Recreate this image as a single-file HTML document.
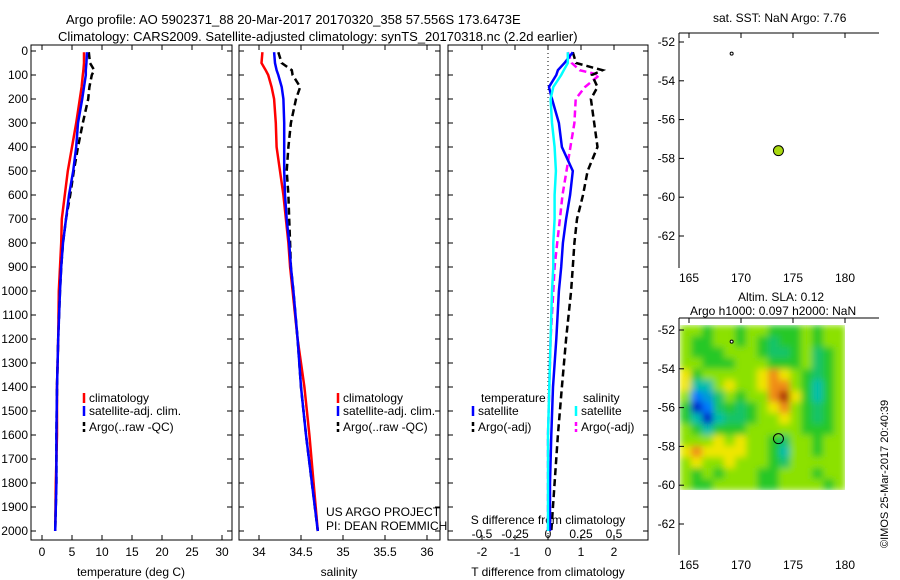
<!DOCTYPE html>
<html><head><meta charset="utf-8"><style>
body{margin:0;background:#fff}
svg{display:block;font-family:"Liberation Sans",sans-serif;font-size:12px}
</style></head><body>
<svg id="s" width="900" height="580">
<defs><filter id="bl" x="0" y="0" width="1" height="1"><feGaussianBlur stdDeviation="3.5" edgeMode="duplicate"/></filter>
<clipPath id="hc"><rect x="680" y="325" width="165" height="165"/></clipPath></defs>
<text x="66" y="24" font-size="13">Argo profile: AO 5902371_88 20-Mar-2017 20170320_358 57.556S 173.6473E</text>
<text x="58" y="41" font-size="13">Climatology: CARS2009. Satellite-adjusted climatology: synTS_20170318.nc (2.2d earlier)</text>
<text x="713" y="22">sat. SST: NaN Argo: 7.76</text>
<text x="738" y="301">Altim. SLA: 0.12</text>
<text x="690" y="315">Argo h1000: 0.097 h2000: NaN</text>
<text transform="translate(888,548) rotate(-90)" font-size="11">©IMOS 25-Mar-2017 20:40:39</text>
<g id="heat" clip-path="url(#hc)"><g id="heatin" filter="url(#bl)"></g></g>
</svg>
<script>
const depths=[5,50,80,100,150,200,300,400,500,600,700,800,900,1000,1200,1400,1600,1800,2000];
const tClim=[7.0,7.0,6.9,6.8,6.6,6.3,5.7,5.0,4.3,3.8,3.3,3.2,3.0,2.8,2.7,2.5,2.5,2.3,2.2];
const tSat=[7.5,7.4,7.3,7.3,7.0,6.7,6.0,5.7,5.2,4.5,4.0,3.5,3.2,3.0,2.7,2.5,2.4,2.4,2.2];
const tArgo=[7.8,8.0,8.7,8.3,7.9,7.7,6.8,6.0,5.3,4.7,4.0,3.5,3.2,3.0,2.7,2.5,2.4,2.4,2.2];
const sClim=[34.04,34.03,34.08,34.11,34.15,34.18,34.2,34.21,34.25,34.29,34.32,34.35,34.37,34.4,34.46,34.54,34.6,34.65,34.7];
const sSat=[34.18,34.19,34.21,34.23,34.27,34.29,34.3,34.3,34.3,34.31,34.33,34.36,34.38,34.41,34.46,34.5,34.56,34.63,34.7];
const sArgo=[34.23,34.27,34.39,34.4,34.49,34.44,34.38,34.35,34.33,34.35,34.36,34.37,34.38,34.41,34.46,34.5,34.56,34.63,34.7];
const dTSat=[0.75,0.5,0.3,0.25,0.03,0.12,0.33,0.42,0.75,0.67,0.55,0.45,0.4,0.33,0.25,0.15,0.1,0.06,0.06];
const dTArgo=[0.75,0.85,1.65,1.33,1.5,1.3,1.4,1.5,1.2,1.06,0.88,0.8,0.75,0.7,0.55,0.42,0.3,0.2,0.1];
const dSSat=[0.15,0.15,0.12,0.1,0.04,0.02,0.03,0.05,0.06,0.05,0.05,0.04,0.04,0.03,0.02,0.01,0.0,0.0,0.0];
const dSArgo=[0.15,0.18,0.24,0.39,0.28,0.21,0.2,0.17,0.14,0.11,0.09,0.07,0.05,0.04,0.02,0.01,0.0,0.0,0.0];
const yTicks=[0,100,200,300,400,500,600,700,800,900,1000,1100,1200,1300,1400,1500,1600,1700,1800,1900,2000];
const tTicks=[0,5,10,15,20,25,30];
const sTicks=[34,34.5,35,35.5,36];
const dTTicks=[-2,-1,0,1,2];
const dSTicks=[-0.5,-0.25,0,0.25,0.5];
const sla=[
[1,1,0,1,1,0,1,1,0,0,0,1,0,1,1],
[1,0,0,1,1,0,1,0,-0.5,0,0,1,0,1,1],
[1,0,0,0,1,1,1,0,-0.5,-0.5,0,1,-0.5,0,1],
[1,1,0,0,0,1,1,1,0,0,0,1,-0.5,0,1],
[2,0,1,1,1,1,1,2,3,2,1,0,-0.5,0,1],
[2,-1,-1,1,2,1,1,2,3,3,1,0,-1,0,1],
[1,-2,-1.5,-0.5,1,0,1,1,3,4,2,0,-1,0,1],
[0,-3,-2,-0.5,0,-0.5,0,1,2,3,1,0,-0.5,0,1],
[0,-1,-3,-1,-0.5,-0.5,0,1,1,2,1,0,-0.5,0,1],
[1,0,-1,0,0,0,1,1,1,1,1,0,0,0,1],
[1,1,1,2,1,2,1,1,0,-0.5,1,1,0,1,1],
[2,3,2,2,2,2,1,1,0,-1,1,1,0,1,1],
[1,2,1,1,2,1,1,1,0,-0.5,1,1,1,1,1],
[1,0,1,0,1,1,1,0,0,1,1,1,0,1,1],
[1,0,0,1,1,1,1,0,0,1,1,1,1,0,1]];
const latTicks=[-52,-54,-56,-58,-60,-62];
const lonTicks=[165,170,175,180];
const argoPos=[173.6,-57.6];
const smallPos=[169.1,-52.6];

const NS="http://www.w3.org/2000/svg",S=document.getElementById('s');
function mk(t,a,p){const e=document.createElementNS(NS,t);for(const k in a)e.setAttribute(k,a[k]);(p||S).appendChild(e);return e;}
const Y=d=>51+d*0.24;
function box(x0,x1,name){const r=mk('rect',{x:x0,y:45,width:x1-x0,height:495,fill:'none',stroke:'#000'});

}
function xt(ticks,f,y,name){ticks.forEach(v=>{const x=f(v);mk('line',{x1:x,x2:x,y1:540,y2:535,stroke:'#000'});mk('line',{x1:x,x2:x,y1:45,y2:50,stroke:'#000'});
const t=mk('text',{x:x,y:y,'text-anchor':'middle'});t.textContent=v;

});}
function yt(x0,x1,lbl){yTicks.forEach(d=>{mk('line',{x1:x0,x2:x0+5,y1:Y(d),y2:Y(d),stroke:'#000'});mk('line',{x1:x1,x2:x1-5,y1:Y(d),y2:Y(d),stroke:'#000'});
if(lbl){const t=mk('text',{x:28,y:Y(d)+4,'text-anchor':'end'});t.textContent=d;

}});}
function line(vals,f,col,dash,name){const pts=vals.map((v,i)=>f(v).toFixed(1)+','+Y(depths[i]).toFixed(1)).join(' ');
const p=mk('polyline',{points:pts,fill:'none',stroke:col,'stroke-width':2.5,'stroke-dasharray':dash||'none'});

}
function lab(x,y,s,name,anchor){const t=mk('text',{x:x,y:y,'text-anchor':anchor||'start'});t.textContent=s;

}
function leg(x,y,col,dash,s,name){mk('line',{x1:x,x2:x,y1:y-9,y2:y+1,stroke:col,'stroke-width':2.5,'stroke-dasharray':dash||'none'});lab(x+5,y,s,name);}
// panel 1
const fT=v=>42+v*6;
box(31,232,'temperature-axes');yt(31,232,true);xt(tTicks,fT,556,'temperature-tick');
line(tClim,fT,'#f00',null,'temp-climatology-line');line(tArgo,fT,'#000','7,4','temp-argo-line');line(tSat,fT,'#00f',null,'temp-satellite-line');
lab(131,576,'temperature (deg C)','temperature-axis-title','middle');
leg(84,402,'#f00',null,'climatology','legend-climatology');leg(84,415,'#00f',null,'satellite-adj. clim.','legend-satellite');leg(84,431,'#000','4,3','Argo(..raw -QC)','legend-argo');
// panel 2
const fS=v=>259+(v-34)*84;
box(239,440,'salinity-axes');yt(239,440,false);xt(sTicks,fS,556,'salinity-tick');
line(sClim,fS,'#f00',null,'sal-climatology-line');line(sArgo,fS,'#000','7,4','sal-argo-line');line(sSat,fS,'#00f',null,'sal-satellite-line');
lab(339,576,'salinity','salinity-axis-title','middle');
leg(338,402,'#f00',null,'climatology','legend-climatology-2');leg(338,415,'#00f',null,'satellite-adj. clim.','legend-satellite-2');leg(338,431,'#000','4,3','Argo(..raw -QC)','legend-argo-2');
lab(326,516,'US ARGO PROJECT','project-label');lab(326,530,'PI: DEAN ROEMMICH','pi-label');
// panel 3
const fD=v=>548+v*33, fDS=v=>548+v*132;
box(448,648,'difference-axes');yt(448,648,false);xt(dTTicks,fD,556,'tdiff-tick');
dSTicks.forEach(v=>{const t=mk('text',{x:fDS(v),y:538,'text-anchor':'middle'});t.textContent=v;

});
lab(548,524,'S difference from climatology','sdiff-axis-title','middle');
mk('line',{x1:548,x2:548,y1:45,y2:540,stroke:'#000','stroke-dasharray':'1,3'});
line(dSArgo,fDS,'#f0f','7,4','sdiff-argo-line');line(dTArgo,fD,'#000','7,4','tdiff-argo-line');line(dTSat,fD,'#00f',null,'tdiff-satellite-line');line(dSSat,fDS,'#0ff',null,'sdiff-satellite-line');
lab(548,576,'T difference from climatology','tdiff-axis-title','middle');
lab(481,402,'temperature','legend-temperature-head');lab(583,402,'salinity','legend-salinity-head');
leg(473,415,'#00f',null,'satellite','legend-t-satellite');leg(473,431,'#000','4,3','Argo(-adj)','legend-t-argo');
leg(576,415,'#0ff',null,'satellite','legend-s-satellite');leg(576,431,'#f0f','4,3','Argo(-adj)','legend-s-argo');
// maps
const fLon=v=>689+(v-165)*10.4;
const HG=document.getElementById('heatin');
function map(top,bot,lat0y,name,heat){
 const fLat=v=>lat0y+(-52-v)*19.4;
 if(heat){const cw=11,ch=11;sla.forEach((row,r)=>row.forEach((v,c)=>{const cell=mk('rect',{x:680+c*cw,y:325+r*ch,width:cw+0.5,height:ch+0.5,fill:cmap(v)},HG);
 
 }));}
 mk('line',{x1:679,x2:679,y1:top,y2:bot,stroke:'#000'});mk('line',{x1:679,x2:879,y1:top,y2:top,stroke:'#000'});
 const r=mk('rect',{x:679,y:top,width:200,height:bot-top,fill:'none',stroke:'none'});
 
 
 latTicks.forEach(v=>{const y=fLat(v);mk('line',{x1:679,x2:684,y1:y,y2:y,stroke:'#000'});const t=mk('text',{x:675,y:y+4,'text-anchor':'end'});t.textContent=v;
 
 });
 lonTicks.forEach(v=>{const x=fLon(v);mk('line',{x1:x,x2:x,y1:top,y2:top+5,stroke:'#000'});const t=mk('text',{x:x,y:bot+14,'text-anchor':'middle'});t.textContent=v;
 
 });
 const d=mk('circle',{cx:fLon(smallPos[0]),cy:fLat(smallPos[1]),r:1.5,fill:'#fff',stroke:'#000'});
 
 
 const c=mk('circle',{cx:fLon(argoPos[0]),cy:fLat(argoPos[1]),r:5,fill:heat?'none':'#a8d810',stroke:'#000'});
 
 
}
function cmap(v){const st=[[-3,[0,0,200]],[-2,[0,120,255]],[-1,[0,190,170]],[0,[40,200,40]],[1,[140,225,0]],[2,[240,230,0]],[3,[240,140,20]],[4,[170,40,10]]];
 for(let i=0;i<st.length-1;i++){if(v<=st[i+1][0]){const t=(v-st[i][0])/(st[i+1][0]-st[i][0]);const a=st[i][1],b=st[i+1][1];return 'rgb('+a.map((x,k)=>Math.round(x+(b[k]-x)*t)).join(',')+')';}}return 'rgb(170,40,10)';}
map(33,268,42,'sst-map',false);
map(318,555,330,'sla-map',true);
</script>
</body></html>
